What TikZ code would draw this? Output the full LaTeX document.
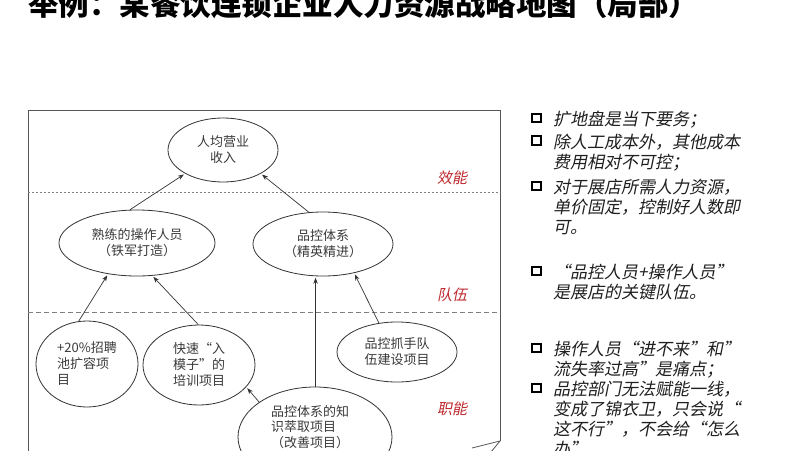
\documentclass[tikz,border=0pt]{standalone}
\usepackage{fontspec}
\setmainfont{Noto Sans CJK SC}
\newfontfamily\itfont[FakeSlant=0.2]{Noto Sans CJK SC}
\usetikzlibrary{shapes.geometric,arrows.meta}
\definecolor{linec}{HTML}{333333}
\definecolor{txtc}{HTML}{3A3A3A}
\definecolor{redc}{HTML}{C0282D}
\definecolor{boxc}{HTML}{555555}
\tikzset{
  ell/.style={ellipse, draw=linec, line width=0.8pt, inner sep=0pt, text=txtc, font=\fontsize{13}{16}\selectfont},
  arr/.style={draw=linec, line width=0.7pt, -{Stealth[length=6pt,width=4.5pt]}, shorten >=1.5pt},
  sect/.style={text=redc, font=\itfont\fontsize{15}{18}\selectfont, inner sep=0pt},
  bul/.style={draw=black, line width=2.3pt, minimum size=8.5pt, inner sep=0pt},
  rtxt/.style={anchor=base west, text=black!88, font=\itfont\fontsize{17}{20.5}\selectfont, inner sep=0pt},
  sep1/.style={draw=gray, line width=0.8pt, dash pattern=on 2pt off 2pt},
  sep2/.style={draw=gray, line width=0.8pt, dash pattern=on 5pt off 3pt},
  frame/.style={draw=boxc, line width=0.8pt},
}
\begin{document}
\begin{tikzpicture}[x=1pt,y=-1pt]
\useasboundingbox (0,0) rectangle (800,450);
\clip (0,0) rectangle (800,450);
\fill[white] (0,0) rectangle (800,450);

% title
\node[anchor=base west, inner sep=0pt, font=\bfseries\fontsize{30.5}{30}\selectfont] (title) at (28,15) {举例：某餐饮连锁企业人力资源战略地图（局部）};

% frame
\coordinate (fbl) at (28,470);
\coordinate (ftl) at (28,110);
\coordinate (ftr) at (500,110);
\coordinate (fbr) at (500,441);
\coordinate (curlA) at (472,448);
\coordinate (curlB) at (491,452);
\draw[frame] (fbl) -- (ftl) -- (ftr) -- (fbr);
\draw[frame] (fbr) -- (curlA);
\draw[frame] (fbr) -- (curlB);

% separators
\coordinate (s1l) at (28,192);
\coordinate (s1r) at (500,192);
\coordinate (s2l) at (28,312);
\coordinate (s2r) at (500,312);
\draw[sep1] (s1l) -- (s1r);
\draw[sep2] (s2l) -- (s2r);

% section labels
\node[sect] (lab1) at (452,178) {效能};
\node[sect] (lab2) at (452,295) {队伍};
\node[sect] (lab3) at (452,409) {职能};

% ellipses
\node[ell, minimum width=110pt, minimum height=64pt, align=center] (n1) at (223,150) {人均营业\\收入};
\node[ell, minimum width=156pt, minimum height=66pt, align=center] (n2) at (137,243) {熟练的操作人员\\（铁军打造）};
\node[ell, minimum width=140pt, minimum height=64pt, align=center] (n3) at (323,244) {品控体系\\（精英精进）};
\node[ell, minimum width=102pt, minimum height=86pt, align=left] (n4) at (87,364) {+20\%招聘\\池扩容项\\目};
\node[ell, minimum width=112pt, minimum height=80pt, align=left] (n5) at (199,365) {快速“入\\模子”的\\培训项目};
\node[ell, minimum width=120pt, minimum height=60pt, align=center] (n6) at (397,352) {品控抓手队\\伍建设项目};
\node[ell, minimum width=154pt, minimum height=100pt] (n7) at (315,437) {};
\node[inner sep=0pt, text=txtc, font=\fontsize{13}{15.5}\selectfont, align=left] (n7t) at (310,427) {品控体系的知\\识萃取项目\\（改善项目）};

% arrows
\draw[arr] (n2.102) -- (n1.212);
\draw[arr] (n3.114) -- (n1.328);
\draw[arr] (n4.101) -- (n2.227);
\draw[arr] (n5.91) -- (n2.295);
\draw[arr] (n6.122) -- (n3.317);
\draw[arr] (n7.north -| n3.257) -- (n3.257);
\draw[arr] (n7.148) -- (n5.335);

% right-hand list
\node[bul] (b1) at (536.5,118) {};
\node[bul] (b2) at (536.5,140.5) {};
\node[bul] (b3) at (536.5,186) {};
\node[bul] (b4) at (536.5,271) {};
\node[bul] (b5) at (536.5,348) {};
\node[bul] (b6) at (536.5,388) {};
\node[rtxt] (t1a) at (553,125.5) {扩地盘是当下要务；};
\node[rtxt] (t2a) at (553,148) {除人工成本外，其他成本};
\node[rtxt] (t2b) at (553,168.5) {费用相对不可控；};
\node[rtxt] (t3a) at (553,193.5) {对于展店所需人力资源，};
\node[rtxt] (t3b) at (553,213.5) {单价固定，控制好人数即};
\node[rtxt] (t3c) at (553,233.5) {可。};
\node[rtxt] (t4a) at (553,278.5) {“品控人员+操作人员”};
\node[rtxt] (t4b) at (553,298.5) {是展店的关键队伍。};
\node[rtxt] (t5a) at (553,355.5) {操作人员“进不来”和”};
\node[rtxt] (t5b) at (553,375.5) {流失率过高”是痛点；};
\node[rtxt] (t6a) at (553,395.5) {品控部门无法赋能一线，};
\node[rtxt] (t6b) at (553,415.5) {变成了锦衣卫，只会说“};
\node[rtxt] (t6c) at (553,435.5) {这不行”，不会给“怎么};
\node[rtxt] (t6d) at (553,455.5) {办”};
\end{tikzpicture}
\end{document}
